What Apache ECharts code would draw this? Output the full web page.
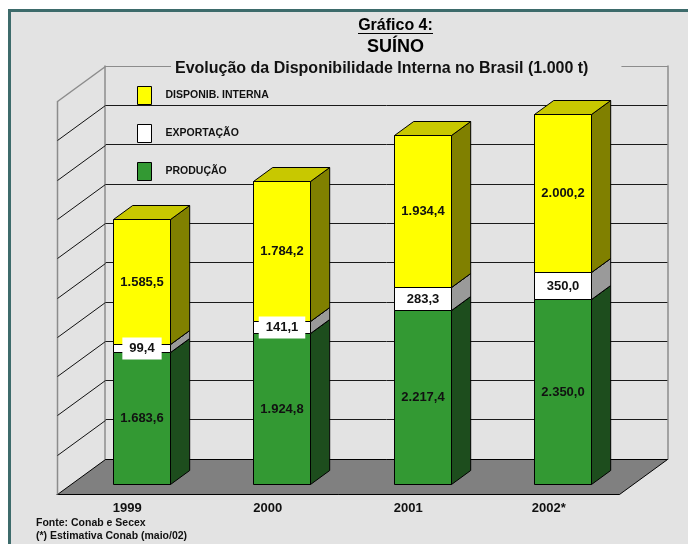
<!DOCTYPE html>
<html>
<head>
<meta charset="utf-8">
<script src="https://cdn.jsdelivr.net/npm/echarts@6/dist/echarts.min.js"></script>
<style>
html,body{margin:0;padding:0;background:#fff;}
#main{width:688px;height:544px;}
</style>
</head>
<body>
<div id="main"></div>
<script>
// dados (1.000 t)
var anos = ['1999', '2000', '2001', '2002*'];
var producao = [1683.6, 1924.8, 2217.4, 2350.0];
var exportacao = [99.4, 141.1, 283.3, 350.0];
var disponib = [1585.5, 1784.2, 1934.4, 2000.2];
var yMax = 5000, yStep = 500;

var FONT = "'Liberation Sans', Arial, sans-serif";
var BG = '#e3e3e3';
var DX = 48, DY = 35;      // profundidade do chao
var F0 = 0.29, F1 = 0.69;  // frente e fundo da barra dentro da profundidade
var BAR = 0.405;           // largura da barra / categoria

function fmt(v){
    var p = v.toFixed(1).split('.');
    return p[0].replace(/\B(?=(\d{3})+(?!\d))/g, '.') + ',' + p[1];
}

// empilha: [indice, base, valor]
function pilha(vals, bases){
    return vals.map(function(v, i){ return [i, bases[i], v]; });
}
var b0 = producao.map(function(){ return 0; });
var b1 = producao.slice();
var b2 = producao.map(function(v, i){ return v + exportacao[i]; });

// caixa 3d de cada segmento
function caixa(cores, fundoLabel){
    return function(params, api){
        var i = api.value(0), b = api.value(1), v = api.value(2);
        var p0 = api.coord([i, b]), p1 = api.coord([i, b + v]);
        var w = api.size([1, 0])[0] * BAR;
        var x0 = Math.round(p0[0] - w / 2 + DX * F0) + 0.5, x1 = x0 + Math.round(w);
        var yb = Math.round(p0[1] - DY * F0) + 0.5, yt = Math.round(p1[1] - DY * F0) + 0.5;
        var dx = DX * (F1 - F0), dy = DY * (F1 - F0);
        var lbl = {
            text: fmt(v), x: (x0 + x1) / 2, y: (yb + yt) / 2,
            align: 'center', verticalAlign: 'middle',
            textAlign: 'center', textVerticalAlign: 'middle',
            font: 'bold 13px ' + FONT, fill: '#111'
        };
        if (fundoLabel) {
            lbl.backgroundColor = fundoLabel;
            lbl.padding = [5, 7, 4, 7];
        }
        return {
            type: 'group',
            children: [
                {type: 'polygon', shape: {points: [[x1, yb], [x1 + dx, yb - dy], [x1 + dx, yt - dy], [x1, yt]]},
                 style: {fill: cores[2], stroke: '#000', lineWidth: 1}},
                {type: 'polygon', shape: {points: [[x0, yt], [x1, yt], [x1 + dx, yt - dy], [x0 + dx, yt - dy]]},
                 style: {fill: cores[1], stroke: '#000', lineWidth: 1}},
                {type: 'rect', shape: {x: x0, y: yt, width: x1 - x0, height: yb - yt},
                 style: {fill: cores[0], stroke: '#000', lineWidth: 1}},
                {type: 'text', z2: 100, style: lbl}
            ]
        };
    };
}

// chao e parede lateral
function cenario(params, api){
    var cs = params.coordSys;
    var xa = cs.x + 0.5, xb = cs.x + cs.width + 0.5;
    var y0 = Math.round(api.coord([0, 0])[1]) + 0.5;
    var kids = [
        {type: 'polygon', shape: {points: [[xa, y0], [xb, y0], [xb + DX, y0 - DY], [xa + DX, y0 - DY]]},
         style: {fill: '#808080', stroke: '#000', lineWidth: 1}},
        {type: 'line', shape: {x1: xa, y1: cs.y, x2: xa, y2: y0},
         style: {stroke: '#8c8c8c', lineWidth: 1.5}}
    ];
    for (var v = yStep; v <= yMax; v += yStep) {
        var y = Math.round(api.coord([0, v])[1]) + 0.5;
        kids.push({type: 'line', shape: {x1: xa, y1: y, x2: xa + DX, y2: y - DY},
                   style: {stroke: v === yMax ? '#8c8c8c' : '#111', lineWidth: v === yMax ? 1.5 : 1}});
    }
    return {type: 'group', children: kids};
}

var coresSplit = [];
for (var k = 0; k < yMax / yStep; k++) coresSplit.push('#1a1a1a');
coresSplit.push('#8c8c8c');

var chart = echarts.init(document.getElementById('main'));
chart.setOption({
    animation: false,
    backgroundColor: 'transparent',
    graphic: [
        {type: 'rect', z: -10, shape: {x: 9.5, y: 10.5, width: 700, height: 560},
         style: {fill: BG, stroke: '#3d6b6b', lineWidth: 3}},
        {type: 'text', z: 10, x: 395.5, y: 26,
         style: {text: 'Gráfico 4:', font: 'bold 16px ' + FONT, fill: '#000',
                 align: 'center', verticalAlign: 'middle', textAlign: 'center', textVerticalAlign: 'middle'}},
        {type: 'line', z: 10, shape: {x1: 358, y1: 33.5, x2: 433, y2: 33.5}, style: {stroke: '#000', lineWidth: 1}},
        {type: 'text', z: 10, x: 395.5, y: 47,
         style: {text: 'SUÍNO', font: 'bold 18px ' + FONT, fill: '#000',
                 align: 'center', verticalAlign: 'middle', textAlign: 'center', textVerticalAlign: 'middle'}},
        {type: 'text', z: 10, x: 171, y: 69,
         style: {text: 'Evolução da Disponibilidade Interna no Brasil (1.000 t)', font: 'bold 16px ' + FONT, fill: '#111',
                 align: 'left', verticalAlign: 'middle', textAlign: 'left', textVerticalAlign: 'middle',
                 backgroundColor: BG, padding: [3, 33, 3, 4]}},
        {type: 'text', z: 10, x: 36, y: 523,
         style: {text: 'Fonte: Conab e Secex', font: 'bold 10.5px ' + FONT, fill: '#111',
                 align: 'left', verticalAlign: 'middle', textAlign: 'left', textVerticalAlign: 'middle'}},
        {type: 'text', z: 10, x: 36, y: 536,
         style: {text: '(*) Estimativa Conab (maio/02)', font: 'bold 10.5px ' + FONT, fill: '#111',
                 align: 'left', verticalAlign: 'middle', textAlign: 'left', textVerticalAlign: 'middle'}}
    ],
    legend: {
        data: ['DISPONIB. INTERNA', 'EXPORTAÇÃO', 'PRODUÇÃO'],
        orient: 'vertical', left: 137, top: 86, padding: 0,
        itemWidth: 14, itemHeight: 18, itemGap: 19, icon: 'rect',
        selectedMode: false,
        itemStyle: {borderColor: '#000', borderWidth: 1},
        textStyle: {fontFamily: FONT, fontWeight: 'bold', fontSize: 10.5, color: '#111', padding: [0, 0, 0, 9]}
    },
    grid: [
        {left: 57, top: 101, width: 562, height: 393},
        {left: 105, top: 66, width: 563, height: 393}
    ],
    xAxis: [
        {type: 'category', gridIndex: 0, data: anos, boundaryGap: true,
         axisLine: {lineStyle: {color: '#000', width: 1}},
         axisTick: {length: 7, lineStyle: {color: '#555'}},
         axisLabel: {margin: 8, fontFamily: FONT, fontWeight: 'bold', fontSize: 13, color: '#111'}},
        {type: 'value', gridIndex: 1, show: false, min: 0, max: 1}
    ],
    yAxis: [
        {type: 'value', gridIndex: 0, min: 0, max: yMax, interval: yStep, show: false},
        {type: 'value', gridIndex: 1, min: 0, max: yMax, interval: yStep,
         axisLine: {show: true, lineStyle: {color: '#8c8c8c', width: 1.5}},
         axisTick: {show: false}, axisLabel: {show: false},
         splitLine: {show: true, lineStyle: {color: coresSplit, width: 1}}},
        {type: 'value', gridIndex: 1, position: 'right', min: 0, max: yMax, interval: yStep,
         axisLine: {show: true, lineStyle: {color: '#8c8c8c', width: 1.5}},
         axisTick: {show: false}, axisLabel: {show: false}, splitLine: {show: false}}
    ],
    series: [
        {type: 'custom', name: 'cenario', xAxisIndex: 0, yAxisIndex: 0, data: [[0]], renderItem: cenario, silent: true},
        {type: 'custom', name: 'PRODUÇÃO', xAxisIndex: 0, yAxisIndex: 0,
         itemStyle: {color: '#339933'}, data: pilha(producao, b0),
         renderItem: caixa(['#339933', '#267326', '#1d4d1d'], null)},
        {type: 'custom', name: 'EXPORTAÇÃO', xAxisIndex: 0, yAxisIndex: 0,
         itemStyle: {color: '#ffffff'}, data: pilha(exportacao, b1),
         renderItem: caixa(['#ffffff', '#dddddd', '#9a9a9a'], '#ffffff')},
        {type: 'custom', name: 'DISPONIB. INTERNA', xAxisIndex: 0, yAxisIndex: 0,
         itemStyle: {color: '#ffff00'}, data: pilha(disponib, b2),
         renderItem: caixa(['#ffff00', '#c8c800', '#808000'], null)}
    ]
});
</script>
</body>
</html>
